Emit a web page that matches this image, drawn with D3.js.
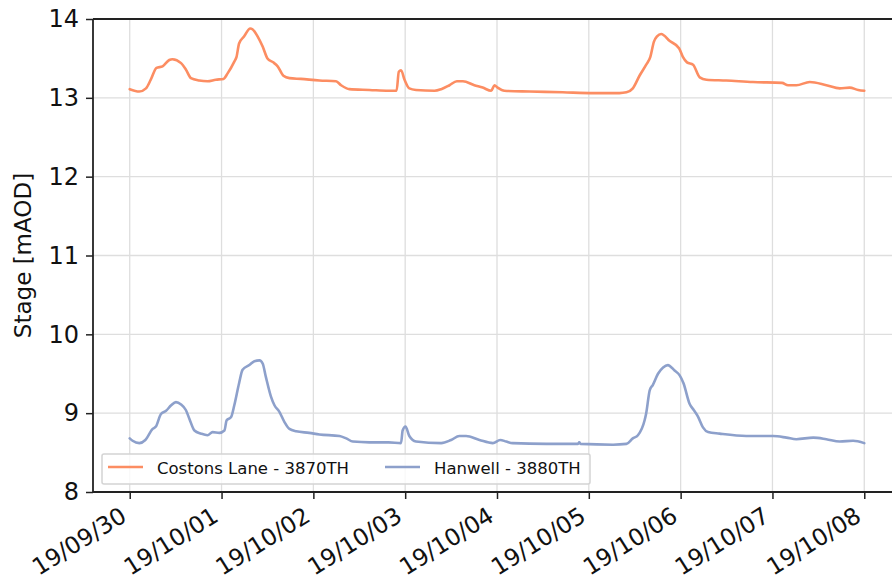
<!DOCTYPE html>
<html>
<head>
<meta charset="utf-8">
<script src="https://cdn.jsdelivr.net/npm/d3@7"></script>
<style>
  html, body { margin: 0; padding: 0; background: #fff; }
  svg { display: block; font-family: "DejaVu Sans", sans-serif; }
</style>
</head>
<body>
<svg id="chart" width="892" height="585"></svg>
<script>
// River stage readings (mAOD) at two gauging stations.
const costonsTimes = [
  "2019-09-30 00:00","2019-09-30 02:30","2019-09-30 04:15","2019-09-30 05:30","2019-09-30 07:00",
  "2019-09-30 08:35","2019-09-30 10:20","2019-09-30 11:10","2019-09-30 13:25","2019-09-30 14:40",
  "2019-09-30 16:00","2019-09-30 18:10","2019-09-30 20:20","2019-09-30 22:30","2019-10-01 00:30",
  "2019-10-01 01:35","2019-10-01 03:20","2019-10-01 03:55","2019-10-01 04:35","2019-10-01 05:55",
  "2019-10-01 07:30","2019-10-01 08:05","2019-10-01 09:25","2019-10-01 10:45","2019-10-01 12:00",
  "2019-10-01 13:30","2019-10-01 14:40","2019-10-01 16:10","2019-10-01 17:45","2019-10-01 20:45",
  "2019-10-02 01:35","2019-10-02 05:55","2019-10-02 07:15","2019-10-02 09:25","2019-10-02 14:40",
  "2019-10-02 19:40","2019-10-02 21:45","2019-10-02 22:20","2019-10-02 22:55","2019-10-02 23:50",
  "2019-10-03 01:05","2019-10-03 02:50","2019-10-03 07:40","2019-10-03 09:25","2019-10-03 11:35",
  "2019-10-03 13:30","2019-10-03 15:05","2019-10-03 18:05","2019-10-03 20:15","2019-10-03 22:30",
  "2019-10-03 23:20","2019-10-04 00:10","2019-10-04 01:55","2019-10-04 08:30","2019-10-04 17:10",
  "2019-10-05 01:05","2019-10-05 08:00","2019-10-05 09:50","2019-10-05 11:30","2019-10-05 13:15",
  "2019-10-05 15:00","2019-10-05 16:05","2019-10-05 17:00","2019-10-05 17:50","2019-10-05 18:55",
  "2019-10-05 21:10","2019-10-05 23:35","2019-10-06 00:35","2019-10-06 01:40","2019-10-06 03:15",
  "2019-10-06 05:00","2019-10-06 06:45","2019-10-06 11:55","2019-10-06 18:55","2019-10-07 02:30",
  "2019-10-07 04:05","2019-10-07 06:15","2019-10-07 09:45","2019-10-07 14:05","2019-10-07 17:35",
  "2019-10-07 20:10","2019-10-07 22:25","2019-10-08 00:00"
];
const costonsStage = [
  13.11, 13.08, 13.12, 13.23, 13.38,
  13.40, 13.48, 13.49, 13.44, 13.36,
  13.25, 13.22, 13.21, 13.23, 13.24,
  13.31, 13.46, 13.52, 13.69, 13.78,
  13.88, 13.87, 13.78, 13.65, 13.50,
  13.45, 13.40, 13.28, 13.25, 13.24,
  13.22, 13.21, 13.16, 13.11, 13.10,
  13.09, 13.09, 13.33, 13.35, 13.23,
  13.12, 13.10, 13.09, 13.11, 13.16,
  13.21, 13.21, 13.16, 13.13, 13.09,
  13.16, 13.13, 13.09, 13.08, 13.07,
  13.06, 13.06, 13.07, 13.12, 13.28,
  13.42, 13.52, 13.71, 13.78, 13.81,
  13.72, 13.63, 13.52, 13.45, 13.42,
  13.26, 13.23, 13.22, 13.20, 13.19,
  13.16, 13.16, 13.20, 13.16, 13.12,
  13.13, 13.10, 13.09
];

const hanwellTimes = [
  "2019-09-30 00:00","2019-09-30 00:45","2019-09-30 02:30","2019-09-30 04:05","2019-09-30 06:00",
  "2019-09-30 06:50","2019-09-30 08:10","2019-09-30 09:30","2019-09-30 10:50","2019-09-30 12:05",
  "2019-09-30 13:25","2019-09-30 14:40","2019-09-30 15:35","2019-09-30 16:55","2019-09-30 18:40",
  "2019-09-30 20:20","2019-09-30 21:40","2019-09-30 23:25","2019-10-01 00:45","2019-10-01 01:20",
  "2019-10-01 02:30","2019-10-01 03:20","2019-10-01 04:35","2019-10-01 05:30","2019-10-01 07:15",
  "2019-10-01 08:35","2019-10-01 09:55","2019-10-01 10:45","2019-10-01 11:35","2019-10-01 12:55",
  "2019-10-01 13:50","2019-10-01 15:05","2019-10-01 16:25","2019-10-01 17:45","2019-10-01 19:30",
  "2019-10-01 22:55","2019-10-02 01:35","2019-10-02 06:50","2019-10-02 08:35","2019-10-02 10:20",
  "2019-10-02 14:40","2019-10-02 19:40","2019-10-02 22:55","2019-10-02 23:20","2019-10-03 00:05",
  "2019-10-03 01:05","2019-10-03 02:50","2019-10-03 09:25","2019-10-03 12:00","2019-10-03 14:10",
  "2019-10-03 15:55","2019-10-03 19:25","2019-10-03 22:55","2019-10-04 00:50","2019-10-04 02:25",
  "2019-10-04 04:05","2019-10-04 12:55","2019-10-04 21:10","2019-10-04 21:30","2019-10-04 21:50",
  "2019-10-05 06:20","2019-10-05 09:50","2019-10-05 11:30","2019-10-05 12:50","2019-10-05 14:35",
  "2019-10-05 15:00","2019-10-05 15:55","2019-10-05 16:45","2019-10-05 18:05","2019-10-05 19:25",
  "2019-10-05 20:40","2019-10-05 22:25","2019-10-05 23:45","2019-10-06 00:45","2019-10-06 02:20",
  "2019-10-06 03:25","2019-10-06 04:30","2019-10-06 05:50","2019-10-06 07:10","2019-10-06 10:10",
  "2019-10-06 17:10","2019-10-07 00:10","2019-10-07 03:40","2019-10-07 06:15","2019-10-07 10:40",
  "2019-10-07 14:05","2019-10-07 17:35","2019-10-07 21:05","2019-10-08 00:00"
];
const hanwellStage = [
  8.68, 8.65, 8.62, 8.66, 8.80,
  8.83, 8.99, 9.03, 9.10, 9.14,
  9.11, 9.04, 8.93, 8.78, 8.74,
  8.72, 8.76, 8.75, 8.78, 8.91,
  8.95, 9.10, 9.38, 9.55, 9.61,
  9.66, 9.67, 9.63, 9.46, 9.21,
  9.10, 9.02, 8.89, 8.80, 8.77,
  8.75, 8.73, 8.71, 8.68, 8.64,
  8.63, 8.63, 8.62, 8.78, 8.83,
  8.71, 8.64, 8.62, 8.66, 8.71,
  8.71, 8.66, 8.62, 8.66, 8.64,
  8.62, 8.61, 8.61, 8.63, 8.61,
  8.60, 8.61, 8.68, 8.72, 8.91,
  9.00, 9.29, 9.36, 9.50, 9.58,
  9.61, 9.54, 9.48, 9.38, 9.12,
  9.04, 8.96, 8.82, 8.76, 8.74,
  8.71, 8.71, 8.69, 8.67, 8.69,
  8.67, 8.64, 8.65, 8.62
];

const seriesNames = ["Costons Lane - 3870TH", "Hanwell - 3880TH"];
const seriesColors = ["#fc8d62", "#8da0cb"];
const dayTicks = ["2019-09-30","2019-10-01","2019-10-02","2019-10-03","2019-10-04",
                  "2019-10-05","2019-10-06","2019-10-07","2019-10-08"];
const stageTicks = [8, 9, 10, 11, 12, 13, 14];

const FONT = "DejaVu Sans, sans-serif";
const parseTime = d3.timeParse("%Y-%m-%d %H:%M");
const parseDay = d3.timeParse("%Y-%m-%d");
const fmtDay = d3.timeFormat("%y/%m/%d");

const series = [
  { name: seriesNames[0], color: seriesColors[0],
    points: costonsTimes.map((t, i) => ({ t: parseTime(t), v: costonsStage[i] })) },
  { name: seriesNames[1], color: seriesColors[1],
    points: hanwellTimes.map((t, i) => ({ t: parseTime(t), v: hanwellStage[i] })) }
];

const svg = d3.select("#chart");
const plot = { left: 93, top: 19, right: 901, bottom: 492 };

// 5% padding either side of the data range on the time axis
const t0 = parseTime(costonsTimes[0]), t1 = parseTime(costonsTimes[costonsTimes.length - 1]);
const pad = (t1 - t0) * 0.05;
const x = d3.scaleTime()
  .domain([new Date(+t0 - pad), new Date(+t1 + pad)])
  .range([plot.left, plot.right]);
const y = d3.scaleLinear().domain([8, 14]).range([plot.bottom, plot.top]);

const tickDates = dayTicks.map(parseDay);

// grid
const grid = svg.append("g").attr("stroke", "#dedede").attr("stroke-width", 1.3);
grid.selectAll(".vg").data(tickDates).join("line")
  .attr("x1", d => x(d)).attr("x2", d => x(d))
  .attr("y1", plot.top).attr("y2", plot.bottom);
grid.selectAll(".hg").data(stageTicks).join("line")
  .attr("x1", plot.left).attr("x2", plot.right)
  .attr("y1", d => y(d)).attr("y2", d => y(d));

// series lines
const line = d3.line().x(d => x(d.t)).y(d => y(d.v)).curve(d3.curveMonotoneX);
svg.append("g").selectAll("path").data(series).join("path")
  .attr("fill", "none")
  .attr("stroke", d => d.color)
  .attr("stroke-width", 2.6)
  .attr("stroke-linejoin", "round")
  .attr("stroke-linecap", "round")
  .attr("d", d => line(d.points));

// axes
const xAxis = d3.axisBottom(x).tickValues(tickDates).tickFormat(fmtDay).tickSize(7).tickPadding(4);
const gx = svg.append("g").attr("transform", `translate(0,${plot.bottom})`).call(xAxis)
  .attr("font-family", FONT);
gx.select(".domain").remove();
gx.selectAll(".tick line").attr("stroke", "#222").attr("stroke-width", 1.5);
gx.selectAll(".tick text")
  .attr("font-size", 23.5)
  .attr("fill", "#111")
  .attr("text-anchor", "end")
  .attr("dy", null)
  .attr("y", null)
  .attr("transform", "translate(-2,28) rotate(-32)");

const yAxis = d3.axisLeft(y).tickValues(stageTicks).tickFormat(d3.format("d")).tickSize(7).tickPadding(7);
const gy = svg.append("g").attr("transform", `translate(${plot.left},0)`).call(yAxis)
  .attr("font-family", FONT);
gy.select(".domain").remove();
gy.selectAll(".tick line").attr("stroke", "#222").attr("stroke-width", 1.5);
gy.selectAll(".tick text").attr("font-size", 24).attr("fill", "#111");

// spines: left, bottom, top
const spines = svg.append("g").attr("stroke", "#222").attr("stroke-width", 1.8);
spines.append("line").attr("x1", plot.left).attr("x2", plot.left).attr("y1", plot.top).attr("y2", plot.bottom);
spines.append("line").attr("x1", plot.left).attr("x2", plot.right).attr("y1", plot.bottom).attr("y2", plot.bottom);
spines.append("line").attr("x1", plot.left).attr("x2", plot.right).attr("y1", plot.top).attr("y2", plot.top);
spines.append("line").attr("x1", plot.right).attr("x2", plot.right).attr("y1", plot.top).attr("y2", plot.bottom);

// y-axis title
svg.append("text")
  .attr("transform", `translate(31,${(plot.top + plot.bottom) / 2}) rotate(-90)`)
  .attr("text-anchor", "middle")
  .attr("font-family", FONT)
  .attr("font-size", 23)
  .attr("fill", "#111")
  .text("Stage [mAOD]");

// legend
const lg = svg.append("g").attr("transform", "translate(102,454)").attr("font-family", FONT);
lg.append("rect")
  .attr("width", 488).attr("height", 30).attr("rx", 2)
  .attr("fill", "rgba(255,255,255,0.8)")
  .attr("stroke", "#d4d4d4").attr("stroke-width", 1.5);
const legendX = [6, 283];
const items = lg.selectAll(".item").data(series).join("g")
  .attr("transform", (d, i) => `translate(${legendX[i]},0)`);
items.append("line")
  .attr("x1", 0).attr("x2", 35).attr("y1", 13).attr("y2", 13)
  .attr("stroke", d => d.color).attr("stroke-width", 2.6);
items.append("text")
  .attr("x", 49).attr("y", 19.5)
  .attr("font-size", 16.5).attr("fill", "#111")
  .text(d => d.name);
</script>
</body>
</html>
